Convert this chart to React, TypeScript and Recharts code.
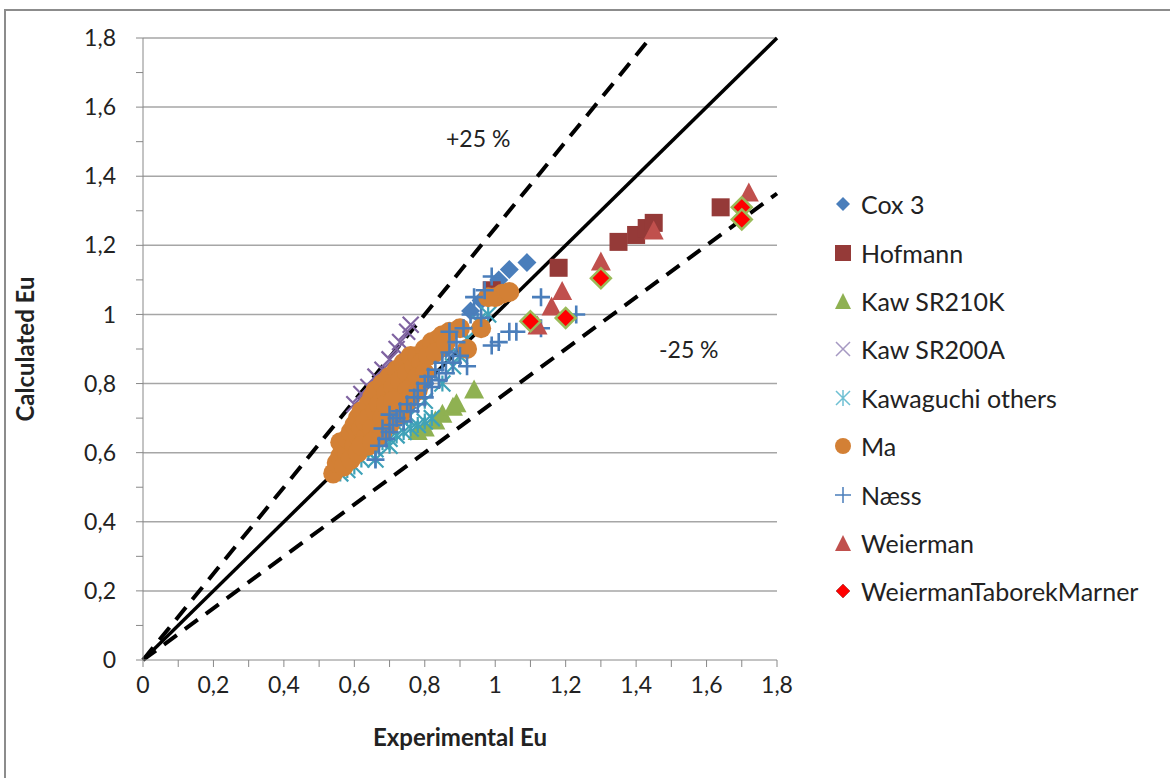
import React from 'react';
import {
  ScatterChart, Scatter, XAxis, YAxis, ReferenceLine,
} from 'recharts';

type Pt = { x: number; y: number };
const pts = (a: number[][]): Pt[] => a.map(([x, y]) => ({ x, y }));

const cox3 = pts([
  [0.72, 0.7], [0.75, 0.73], [0.8, 0.8], [0.86, 0.9], [0.89, 0.96], [0.93, 1.01],
  [0.96, 1.04], [0.99, 1.07], [1.01, 1.1], [1.04, 1.13], [1.09, 1.15],
]);
const hofmann = pts([
  [0.99, 1.07], [1.18, 1.135], [1.35, 1.21], [1.4, 1.23], [1.43, 1.25], [1.45, 1.265], [1.64, 1.31],
]);
const kawSR210K = pts([
  [0.78, 0.66], [0.8, 0.67], [0.83, 0.69], [0.85, 0.71], [0.88, 0.73], [0.89, 0.74], [0.94, 0.78],
]);
const kawSR200A = pts([
  [0.6, 0.74], [0.62, 0.77], [0.64, 0.79], [0.66, 0.82], [0.68, 0.84], [0.7, 0.87],
  [0.72, 0.9], [0.73, 0.92], [0.75, 0.95], [0.76, 0.97],
]);
const kawaguchiOthers = pts([
  [0.56, 0.54], [0.58, 0.55], [0.6, 0.56], [0.62, 0.58], [0.64, 0.6], [0.66, 0.61],
  [0.68, 0.63], [0.7, 0.64], [0.72, 0.65], [0.74, 0.66], [0.76, 0.67], [0.78, 0.68],
  [0.8, 0.69], [0.82, 0.7], [0.7, 0.62], [0.66, 0.58], [0.75, 0.7], [0.8, 0.75],
  [0.85, 0.8], [0.88, 0.85], [0.9, 0.88], [0.92, 0.93], [0.95, 0.98], [0.98, 1.0],
]);
const ma = pts([
  [0.54, 0.54], [0.55, 0.57], [0.56, 0.59], [0.57, 0.61], [0.56, 0.63], [0.58, 0.6],
  [0.58, 0.64], [0.59, 0.66], [0.6, 0.62], [0.6, 0.68], [0.61, 0.65], [0.61, 0.7],
  [0.62, 0.67], [0.62, 0.72], [0.63, 0.64], [0.63, 0.69], [0.64, 0.74], [0.64, 0.7],
  [0.65, 0.67], [0.65, 0.76], [0.66, 0.72], [0.66, 0.78], [0.67, 0.74], [0.68, 0.8],
  [0.68, 0.7], [0.69, 0.77], [0.7, 0.82], [0.7, 0.73], [0.71, 0.79], [0.72, 0.84],
  [0.72, 0.76], [0.73, 0.81], [0.74, 0.86], [0.75, 0.83], [0.76, 0.88], [0.77, 0.8],
  [0.77, 0.85], [0.78, 0.88], [0.8, 0.9], [0.82, 0.92], [0.84, 0.93], [0.85, 0.94],
  [0.87, 0.95], [0.9, 0.96], [0.92, 0.9], [0.96, 0.96], [1.0, 1.05], [1.02, 1.06],
  [1.04, 1.065], [0.98, 1.05], [0.57, 0.56], [0.59, 0.58], [0.61, 0.6], [0.64, 0.62],
  [0.67, 0.65], [0.7, 0.68], [0.75, 0.78], [0.79, 0.86], [0.81, 0.88], [0.66, 0.64],
  [0.68, 0.66], [0.7, 0.7], [0.72, 0.72], [0.74, 0.74], [0.76, 0.76], [0.78, 0.82],
  [0.62, 0.62], [0.65, 0.63], [0.73, 0.71], [0.75, 0.75], [0.78, 0.78], [0.8, 0.83],
  [0.83, 0.89], [0.86, 0.92], [0.69, 0.74], [0.71, 0.75],
]);
const naess = pts([
  [0.66, 0.58], [0.67, 0.62], [0.69, 0.64], [0.7, 0.66], [0.71, 0.68], [0.72, 0.7],
  [0.73, 0.72], [0.74, 0.69], [0.75, 0.74], [0.76, 0.72], [0.77, 0.76], [0.78, 0.78],
  [0.78, 0.74], [0.8, 0.8], [0.8, 0.76], [0.81, 0.82], [0.82, 0.79], [0.83, 0.84],
  [0.84, 0.81], [0.85, 0.86], [0.86, 0.83], [0.87, 0.89], [0.87, 0.95], [0.88, 0.86],
  [0.89, 0.92], [0.9, 0.88], [0.91, 0.96], [0.92, 0.85], [0.93, 1.0], [0.94, 1.05],
  [0.96, 0.99], [0.99, 0.91], [0.99, 1.11], [1.01, 0.92], [1.04, 0.95], [1.06, 0.95],
  [1.13, 0.96], [1.13, 1.05], [1.23, 1.0], [0.97, 1.07], [0.7, 0.71], [0.68, 0.67],
]);
const weierman = pts([
  [1.12, 0.965], [1.16, 1.02], [1.19, 1.065], [1.3, 1.15], [1.45, 1.24], [1.72, 1.35],
]);
const weiermanTM = pts([
  [1.1, 0.98], [1.2, 0.99], [1.3, 1.105], [1.7, 1.31], [1.7, 1.275],
]);

const ticks = [0, 0.1, 0.2, 0.3, 0.4, 0.5, 0.6, 0.7, 0.8, 0.9, 1, 1.1, 1.2, 1.3, 1.4, 1.5, 1.6, 1.7, 1.8];
const gridValues = [0.2, 0.4, 0.6, 0.8, 1, 1.2, 1.4, 1.6, 1.8];

const fmt = (v: number) => (Math.round(v * 10) % 2 === 0 ? String(v).replace('.', ',') : '');

const FONT = 'Lato, "Open Sans", sans-serif';
const TXT = '#222';

const XShape = (p: any) => {
  const { cx, cy } = p;
  const r = 8;
  return (
    <path d={`M${cx - r},${cy - r}L${cx + r},${cy + r}M${cx - r},${cy + r}L${cx + r},${cy - r}`}
      stroke={p.fill} strokeWidth={2.2} fill="none" />
  );
};
const PlusShape = (p: any) => {
  const { cx, cy } = p;
  const r = 9;
  return (
    <path d={`M${cx - r},${cy}L${cx + r},${cy}M${cx},${cy - r}L${cx},${cy + r}`}
      stroke={p.fill} strokeWidth={2.6} fill="none" />
  );
};
const StarShape = (p: any) => {
  const { cx, cy } = p;
  const r = 8;
  return (
    <path d={`M${cx - r},${cy - r}L${cx + r},${cy + r}M${cx - r},${cy + r}L${cx + r},${cy - r}M${cx},${cy - r}L${cx},${cy + r}`}
      stroke={p.fill} strokeWidth={2.2} fill="none" />
  );
};
const Circle = (p: any) => <circle cx={p.cx} cy={p.cy} r={10} fill={p.fill} />;
const Square = (p: any) => <rect x={p.cx - 9} y={p.cy - 9} width={18} height={18} fill={p.fill} />;
const Tri = (p: any) => (
  <path d={`M${p.cx},${p.cy - 11}L${p.cx + 10},${p.cy + 8}L${p.cx - 10},${p.cy + 8}Z`} fill={p.fill} />
);
const Diamond = (p: any) => (
  <path d={`M${p.cx},${p.cy - 9.5}L${p.cx + 9.5},${p.cy}L${p.cx},${p.cy + 9.5}L${p.cx - 9.5},${p.cy}Z`} fill={p.fill} />
);
const RedDiamond = (p: any) => (
  <path d={`M${p.cx},${p.cy - 10}L${p.cx + 10},${p.cy}L${p.cx},${p.cy + 10}L${p.cx - 10},${p.cy}Z`}
    fill="#FF0000" stroke="#9BBB59" strokeWidth={2.5} />
);

const series = [
  { name: 'Cox 3', data: cox3, color: '#4A7EBB', shape: Diamond },
  { name: 'Hofmann', data: hofmann, color: '#953A38', shape: Square },
  { name: 'Kaw SR210K', data: kawSR210K, color: '#8FB152', shape: Tri },
  { name: 'Kaw SR200A', data: kawSR200A, color: '#7F63A1', shape: XShape },
  { name: 'Kawaguchi others', data: kawaguchiOthers, color: '#3FA2B8', shape: StarShape },
  { name: 'Ma', data: ma, color: '#D38035', shape: Circle },
  { name: 'Næss', data: naess, color: '#4A7EBB', shape: PlusShape },
  { name: 'Weierman', data: weierman, color: '#C0504D', shape: Tri },
  { name: 'WeiermanTaborekMarner', data: weiermanTM, color: '#FF0000', shape: RedDiamond },
];

const legendIcon = (name: string, color: string) => {
  switch (name) {
    case 'Cox 3': return <path d="M10,3L17,10L10,17L3,10Z" fill={color} />;
    case 'Hofmann': return <rect x={2} y={2} width={16} height={16} fill={color} />;
    case 'Kaw SR210K':
    case 'Weierman': return <path d="M10,2L18,18L2,18Z" fill={color} />;
    case 'Kaw SR200A': return <path d="M3,3L17,17M3,17L17,3" stroke="#A699C2" strokeWidth={1.5} />;
    case 'Kawaguchi others': return <path d="M3,3L17,17M3,17L17,3M10,2L10,18" stroke="#6FC0D3" strokeWidth={1.5} />;
    case 'Ma': return <circle cx={10} cy={10} r={8} fill={color} />;
    case 'Næss': return <path d="M2,10L18,10M10,2L10,18" stroke={color} strokeWidth={1.5} />;
    default: return <path d="M10,3L17,10L10,17L3,10Z" fill="#FF0000" stroke="#C0504D" strokeWidth={1} />;
  }
};

export default function App() {
  return (
    <div style={{ position: 'absolute', left: 0, top: 0, width: 1170, height: 778, background: '#fff', overflow: 'hidden' }}>
      <div style={{ position: 'absolute', left: 4, top: 9, width: 1200, height: 800, border: '2px solid #8C8C8C' }} />
      <ScatterChart width={1170} height={778} margin={{ top: 38, right: 393, left: 83, bottom: 78 }}
        style={{ fontFamily: FONT }}>
        <XAxis type="number" dataKey="x" domain={[0, 1.8]} ticks={ticks} tickFormatter={fmt}
          interval={0} height={40} stroke="#888" tickSize={7} tickMargin={10}
          tick={{ fontSize: 23, fill: TXT, fontFamily: FONT }}
          label={{ value: 'Experimental Eu', position: 'insideBottom', offset: -46, fontSize: 24, fontWeight: 'bold', fill: TXT }} />
        <YAxis type="number" dataKey="y" domain={[0, 1.8]} ticks={ticks} tickFormatter={fmt}
          interval={0} width={60} stroke="#888" tickSize={7} tickMargin={20}
          tick={{ fontSize: 23, fill: TXT, fontFamily: FONT }}
          label={{ value: 'Calculated Eu', angle: -90, position: 'insideLeft', offset: -58, fontSize: 24, fontWeight: 'bold', fill: TXT, style: { textAnchor: 'middle' } }} />
        {gridValues.map((v) => (
          <ReferenceLine key={v} y={v} stroke="#A6A6A6" strokeWidth={1.5} />
        ))}
        {series.map((s) => (
          <Scatter key={s.name} name={s.name} data={s.data} fill={s.color} shape={s.shape}
            isAnimationActive={false} />
        ))}
        <ReferenceLine segment={[{ x: 0, y: 0 }, { x: 1.8, y: 1.8 }]} stroke="#000" strokeWidth={3.5} />
        <ReferenceLine segment={[{ x: 0, y: 0 }, { x: 1.44, y: 1.8 }]} stroke="#000" strokeWidth={4} strokeDasharray="16 10" />
        <ReferenceLine segment={[{ x: 0, y: 0 }, { x: 1.8, y: 1.35 }]} stroke="#000" strokeWidth={4} strokeDasharray="16 10" />
      </ScatterChart>
      <div style={{ position: 'absolute', left: 833, top: 180, fontFamily: FONT, fontSize: 25, color: TXT }}>
        {series.map((s) => (
          <div key={s.name} style={{ display: 'flex', alignItems: 'center', height: 48.4 }}>
            <svg width={20} height={20} style={{ marginRight: 8 }}>{legendIcon(s.name, s.color)}</svg>
            <span>{s.name}</span>
          </div>
        ))}
      </div>
      <div style={{ position: 'absolute', left: 446, top: 124, fontFamily: FONT, fontSize: 23, color: TXT }}>+25 %</div>
      <div style={{ position: 'absolute', left: 659, top: 335, fontFamily: FONT, fontSize: 23, color: TXT }}>-25 %</div>
    </div>
  );
}
